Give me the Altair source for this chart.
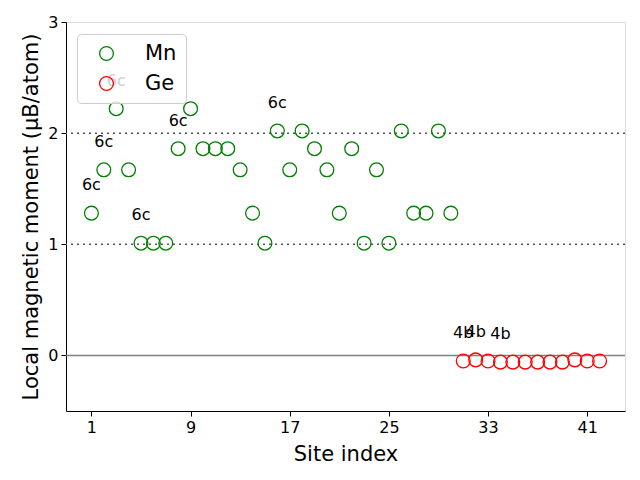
import altair as alt
import pandas as pd

mn_sites = list(range(1, 31))
mn_moments = [1.28, 1.67, 2.22, 1.67, 1.01, 1.01, 1.01, 1.86, 2.22, 1.86,
              1.86, 1.86, 1.67, 1.28, 1.01, 2.02, 1.67, 2.02, 1.86, 1.67,
              1.28, 1.86, 1.01, 1.67, 1.01, 2.02, 1.28, 1.28, 2.02, 1.28]
ge_sites = list(range(31, 43))
ge_moments = [-0.05, -0.04, -0.05, -0.06, -0.06, -0.06, -0.06, -0.06, -0.06,
              -0.04, -0.05, -0.05]

label_sites = [1, 2, 3, 5, 8, 16, 31, 32, 34]
label_texts = ["6c", "6c", "6c", "6c", "6c", "6c", "4b", "4b", "4b"]

x_ticks = [1, 9, 17, 25, 33, 41]
y_ticks = [0, 1, 2, 3]

pts = pd.DataFrame({
    "site": mn_sites + ge_sites,
    "moment": mn_moments + ge_moments,
    "element": ["Mn"] * len(mn_sites) + ["Ge"] * len(ge_sites),
})
all_m = dict(zip(mn_sites + ge_sites, mn_moments + ge_moments))
labels = pd.DataFrame({
    "site": label_sites,
    "moment": [all_m[s] for s in label_sites],
    "label": label_texts,
})

xs = alt.Scale(domain=[-1.05, 44.05], nice=False, zero=False)
ys = alt.Scale(domain=[-0.5, 3.0], nice=False, zero=False)

x_axis = alt.Axis(values=x_ticks, format="d", title="Site index", grid=False, labelFontSize=16,
                  titleFontSize=21, titleFontWeight="normal", labelColor="black",
                  titleColor="black", tickColor="black", domainColor="black",
                  tickSize=5, labelPadding=3, titlePadding=8)
y_axis = alt.Axis(values=y_ticks, format="d", title="Local magnetic moment (μB/atom)", grid=False,
                  labelFontSize=16, titleFontSize=21, titleFontWeight="normal",
                  labelColor="black", titleColor="black", tickColor="black",
                  domainColor="black", tickSize=5, labelPadding=3, titlePadding=6)

rules_df = pd.DataFrame({"y": [1, 2]})
dotted = alt.Chart(rules_df).mark_rule(color="#555555", strokeDash=[2, 4], strokeWidth=1.5).encode(
    y=alt.Y("y:Q", scale=ys, axis=y_axis))
zero = alt.Chart(pd.DataFrame({"y": [0]})).mark_rule(color="gray", strokeWidth=1.5).encode(
    y=alt.Y("y:Q", scale=ys))

text = alt.Chart(labels).transform_calculate(ty="datum.moment + 0.25").mark_text(
    fontSize=16, color="black", baseline="middle", align="center", font="DejaVu Sans"
).encode(x=alt.X("site:Q", scale=xs), y=alt.Y("ty:Q", scale=ys), text="label:N")

points = alt.Chart(pts).mark_point(shape="circle", filled=False, size=190, strokeWidth=1.3,
                                   opacity=1).encode(
    x=alt.X("site:Q", scale=xs, axis=x_axis),
    y=alt.Y("moment:Q", scale=ys),
    color=alt.Color("element:N", scale=alt.Scale(domain=["Mn", "Ge"], range=["green", "red"]),
                    legend=alt.Legend(title=None, orient="none", legendX=11, legendY=12,
                                      labelFontSize=21, symbolSize=190, symbolStrokeWidth=1.3,
                                      symbolOpacity=1,
                                      fillColor="rgba(255,255,255,0.8)", strokeColor="#cccccc",
                                      cornerRadius=4, padding=9, rowPadding=8,
                                      symbolOffset=10, labelOffset=28, labelColor="black")),
)

chart = alt.layer(dotted, zero, text, points).properties(
    width=559, height=389,
    autosize=alt.AutoSizeParams(type="none"),
    padding={"left": 66, "top": 22, "right": 15, "bottom": 69},
).configure_view(stroke="black", strokeWidth=1).configure(font="DejaVu Sans")

chart.save("out.html", embed_options={"renderer": "svg", "actions": False})
